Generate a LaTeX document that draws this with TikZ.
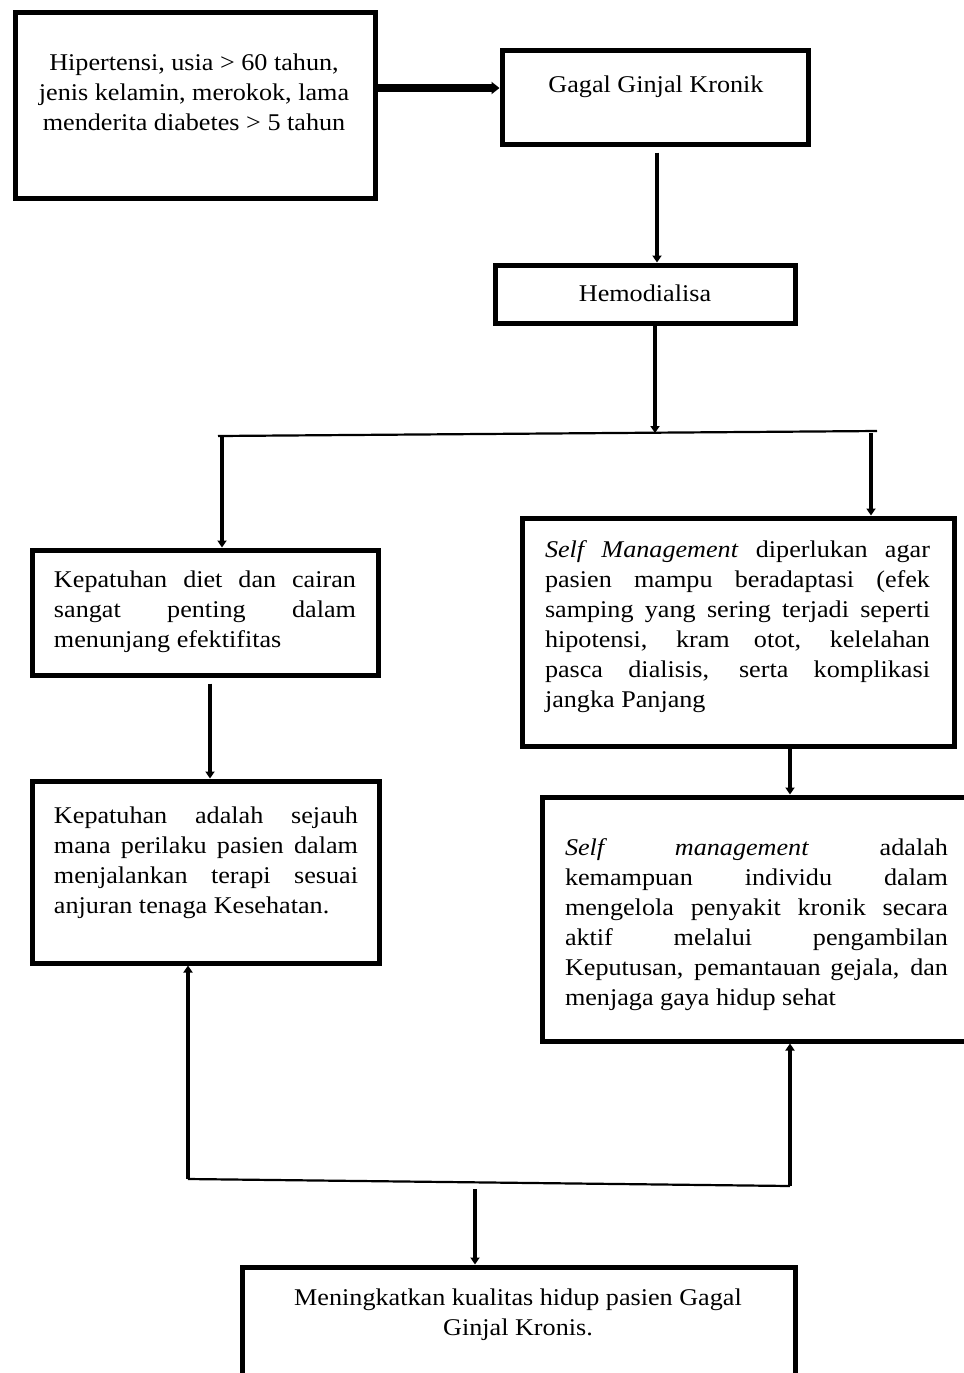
\documentclass[tikz,border=0pt]{standalone}
\usepackage{fontspec}
\setmainfont{Liberation Serif}[FakeStretch=1.09]
\usetikzlibrary{arrows.meta,calc}

\newcommand{\fullline}[1]{\makebox[\hsize][s]{\spaceskip=0pt\xspaceskip=0pt #1}}

\tikzset{
  box/.style={draw, line width=2.5pt, inner sep=0pt},
  txt/.style={inner sep=0pt, anchor=north, font=\fontsize{12}{15}\selectfont},
  jtxt/.style={txt, align=justify},
  link/.style={line width=2.1pt, -{Triangle[length=3.5pt,width=4.5pt]}},
  bigarrow/.style={line width=3.6pt, -{Triangle[length=4pt,width=6pt]}},
  branch/.style={line width=1.1pt},
}

\begin{document}
\begin{tikzpicture}[x=0.5pt,y=-0.5pt]
\useasboundingbox (0,0) rectangle (964,1373);

% boxes
\node[box, minimum width=180pt, minimum height=93pt] (risk) at (195,105) {};
\node[box, minimum width=153pt, minimum height=47pt] (ggk) at (655,97) {};
\node[box, minimum width=150pt, minimum height=29pt] (hd) at (645,294) {};
\node[box, minimum width=173pt, minimum height=62.5pt] (diet) at (205,612.5) {};
\node[box, minimum width=216pt, minimum height=114pt] (sm) at (738,632) {};
\node[box, minimum width=173.5pt, minimum height=91pt] (patuh) at (205.5,872) {};
\node[box, minimum width=229pt, minimum height=122pt] (smdef) at (771,919) {};
\node[box, minimum width=276.5pt, minimum height=66.5pt] (hasil) at (518.5,1333.5) {};

% texts
\node[txt, align=center] (risktext) at (194,53) {Hipertensi, usia > 60 tahun,\\ jenis kelamin, merokok, lama\\ menderita diabetes > 5 tahun};
\node[txt] (ggktext) at (656,75) {Gagal Ginjal Kronik};
\node[txt] (hdtext) at (645,284) {Hemodialisa};
\node[jtxt, text width=151pt] (diettext) at (205,570) {%
  \fullline{Kepatuhan diet dan cairan}\\
  \fullline{sangat penting dalam}\\
  menunjang efektifitas};
\node[jtxt, text width=192.5pt] (smtext) at (737.5,540) {%
  \fullline{\textit{Self Management} diperlukan agar}\\
  \fullline{pasien mampu beradaptasi (efek}\\
  \fullline{samping yang sering terjadi seperti}\\
  \fullline{hipotensi, kram otot, kelelahan}\\
  \fullline{pasca dialisis, serta komplikasi}\\
  jangka Panjang};
\node[jtxt, text width=152pt] (patuhtext) at (206,806) {%
  \fullline{Kepatuhan adalah sejauh}\\
  \fullline{mana perilaku pasien dalam}\\
  \fullline{menjalankan terapi sesuai}\\
  anjuran tenaga Kesehatan.};
\node[jtxt, text width=191.5pt] (smdeftext) at (756.5,838) {%
  \fullline{\textit{Self management} adalah}\\
  \fullline{kemampuan individu dalam}\\
  \fullline{mengelola penyakit kronik secara}\\
  \fullline{aktif melalui pengambilan}\\
  \fullline{Keputusan, pemantauan gejala, dan}\\
  menjaga gaya hidup sehat};
\node[txt, align=center] (hasiltext) at (518,1288) {Meningkatkan kualitas hidup pasien Gagal\\ Ginjal Kronis.};

% connectors
\coordinate (split) at (655,433);
\coordinate (bl) at (218,436);
\coordinate (br) at (877,431);
\coordinate (dl) at (222,437);
\coordinate (dr) at (871,433);
\coordinate (jl) at (188,1179);
\coordinate (jr) at (790,1186);
\coordinate (jm) at (475,1189);

\draw[bigarrow] ([yshift=8.5pt]risk.east) -- ([yshift=8.5pt]risk.east -| ggk.west);
\draw[link] ([xshift=1pt,yshift=-3pt]ggk.south) -- ([xshift=1pt]ggk.south |- hd.north);
\draw[link] ([xshift=5pt]hd.south) -- (split);
\draw[branch] (bl) -- (br);
\draw[link] (dl) -- (dl |- diet.north);
\draw[link] (dr) -- (dr |- sm.north);
\draw[link] ([xshift=2.5pt,yshift=-3pt]diet.south) -- ([xshift=2.5pt]diet.south |- patuh.north);
\draw[link] ([xshift=26pt]sm.south) -- ([xshift=26pt]sm.south |- smdef.north);
\draw[branch] (jl) -- (jr);
\draw[link] (jl) -- (jl |- patuh.south);
\draw[link] (jr) -- (jr |- smdef.south);
\draw[link] (jm) -- (jm |- hasil.north);
\end{tikzpicture}
\end{document}
